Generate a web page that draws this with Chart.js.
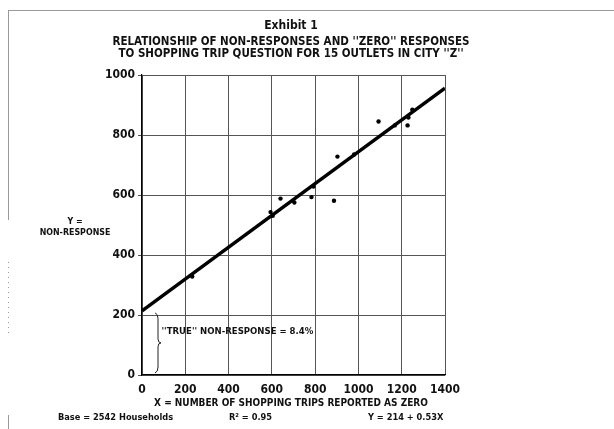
<!DOCTYPE html>
<html>
<head>
<meta charset="utf-8">
<script src="https://cdn.jsdelivr.net/npm/chart.js@4"></script>
<style>
    html, body { margin: 0; padding: 0; background: #fff; }
    #wrap { width: 614px; height: 429px; }
</style>
</head>
<body>
<div id="wrap"><canvas id="exhibitChart" width="614" height="429"></canvas></div>
<script>
// Outlets: shopping trips reported as zero (X) vs non-responses (Y)
const tripsZero = [232, 594, 604, 640, 704, 783, 792, 887, 903, 980, 1093, 1168, 1227, 1231, 1249];
const nonResponse = [328, 543, 531, 588, 575, 593, 628, 581, 728, 735, 845, 832, 832, 858, 884];

// fitted line Y = 214 + 0.53X, end points
const fitX = [0, 1400];
const fitY = [214, 956];

const xTickValues = [0, 200, 400, 600, 800, 1000, 1200, 1400];
const yTickValues = [0, 200, 400, 600, 800, 1000];

const titleLines = [
    "RELATIONSHIP OF NON-RESPONSES AND ''ZERO'' RESPONSES",
    "TO SHOPPING TRIP QUESTION FOR 15 OUTLETS IN CITY ''Z''",
];
const footNotes = ["Base = 2542 Households", "R\u00b2 = 0.95", "Y = 214 + 0.53X"];

const FONT = '"DejaVu Sans Condensed", "Liberation Sans Narrow", sans-serif';

function font(size) {
    return "bold " + size + "px " + FONT;
}

const exhibitText = {
    id: "exhibitText",

    beforeDraw(chart) {
        const ctx = chart.ctx;
        ctx.save();
        ctx.fillStyle = "#fff";
        ctx.fillRect(0, 0, chart.width, chart.height);

        // page edge left over from the scan
        ctx.strokeStyle = "#9a9a9a";
        ctx.lineWidth = 1;
        ctx.beginPath();
        ctx.moveTo(8, 10.5);
        ctx.lineTo(chart.width, 10.5);
        ctx.moveTo(8.5, 10);
        ctx.lineTo(8.5, 220);
        ctx.moveTo(8.5, 415);
        ctx.lineTo(8.5, 429);
        ctx.stroke();

        ctx.setLineDash([1, 4]);
        ctx.beginPath();
        ctx.moveTo(8.5, 262);
        ctx.lineTo(8.5, 335);
        ctx.stroke();
        ctx.restore();
    },

    afterDraw(chart) {
        const ctx = chart.ctx;
        const xs = chart.scales.x;
        const ys = chart.scales.y;
        const area = chart.chartArea;
        const mid = 291;

        ctx.save();
        ctx.fillStyle = "#111";
        ctx.textBaseline = "middle";
        ctx.textAlign = "center";

        ctx.font = font(12);
        ctx.fillText("Exhibit 1", mid, 26);
        ctx.font = font(11.5);
        ctx.fillText(titleLines[0], mid, 42);
        ctx.fillText(titleLines[1], mid, 54);

        ctx.font = font(8.8);
        ctx.fillText("Y =", 75, 222);
        ctx.fillText("NON-RESPONSE", 75, 233);

        ctx.font = font(10);
        ctx.fillText("X = NUMBER OF SHOPPING TRIPS REPORTED AS ZERO", mid, 403);

        ctx.textAlign = "left";
        ctx.font = font(9.2);
        ctx.fillText(footNotes[0], 58, 418);
        ctx.fillText(footNotes[1], 229, 418);
        ctx.fillText(footNotes[2], 368, 418);

        // brace marking the intercept
        const top = ys.getPixelForValue(fitY[0]);
        const bottom = ys.getPixelForValue(0);
        const bx = area.left + 13;
        const half = (top + bottom) / 2;
        ctx.strokeStyle = "#222";
        ctx.lineWidth = 1;
        ctx.beginPath();
        ctx.moveTo(bx, top + 2);
        ctx.quadraticCurveTo(bx + 3, top + 3, bx + 3, top + 8);
        ctx.lineTo(bx + 3, half - 4);
        ctx.quadraticCurveTo(bx + 3, half, bx + 6, half);
        ctx.quadraticCurveTo(bx + 3, half, bx + 3, half + 4);
        ctx.lineTo(bx + 3, bottom - 8);
        ctx.quadraticCurveTo(bx + 3, bottom - 3, bx, bottom - 2);
        ctx.stroke();

        ctx.font = font(9.5);
        ctx.fillText("''TRUE'' NON-RESPONSE = 8.4%", xs.getPixelForValue(90), ys.getPixelForValue(145));
        ctx.restore();
    },
};

new Chart(document.getElementById("exhibitChart").getContext("2d"), {
    data: {
        datasets: [
            {
                type: "line",
                data: fitX.map((x, i) => ({ x: x, y: fitY[i] })),
                borderColor: "#000",
                borderWidth: 3.5,
                pointRadius: 0,
                fill: false,
            },
            {
                type: "scatter",
                data: tripsZero.map((x, i) => ({ x: x, y: nonResponse[i] })),
                backgroundColor: "#000",
                borderWidth: 0,
                pointRadius: 2.2,
            },
        ],
    },

    options: {
        responsive: false,
        animation: false,
        events: [],

        layout: {
            padding: { top: 75, right: 169, left: 0, bottom: 0 },
        },

        plugins: {
            legend: { display: false },
            tooltip: { enabled: false },
        },

        scales: {
            x: {
                type: "linear",
                min: 0,
                max: 1400,
                afterBuildTicks: (scale) => {
                    scale.ticks = xTickValues.map((v) => ({ value: v }));
                },
                afterFit: (scale) => {
                    scale.height = 54;
                },
                grid: { color: "#555", lineWidth: 1, drawTicks: false },
                border: { color: "#000", width: 1.2 },
                ticks: {
                    color: "#111",
                    padding: 8,
                    maxRotation: 0,
                    autoSkip: false,
                    callback: (value) => String(value),
                    font: { family: FONT, size: 12, weight: "bold" },
                },
            },
            y: {
                type: "linear",
                min: 0,
                max: 1000,
                afterBuildTicks: (scale) => {
                    scale.ticks = yTickValues.map((v) => ({ value: v }));
                },
                afterFit: (scale) => {
                    scale.width = 142;
                },
                grid: { color: "#555", lineWidth: 1, tickLength: 4 },
                border: { color: "#000", width: 1.2 },
                ticks: {
                    color: "#111",
                    padding: 3,
                    callback: (value) => String(value),
                    font: { family: FONT, size: 12, weight: "bold" },
                },
            },
        },
    },

    plugins: [exhibitText],
});
</script>
</body>
</html>
